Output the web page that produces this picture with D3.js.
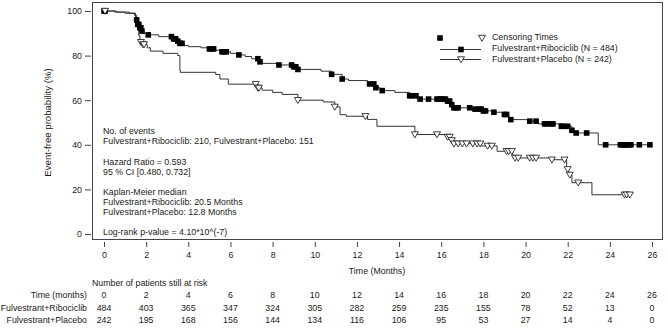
<!DOCTYPE html>
<html>
<head>
<style>
  body { margin: 0; background: #fff; }
  text { font-family: "Liberation Sans", Arial, sans-serif; fill: #1a1a1a; }
</style>
</head>
<body>
<script src="https://cdn.jsdelivr.net/npm/d3@7"></script>
<script>

const width = 668;
const height = 330;
const fontSize = 8.8;

// Kaplan-Meier steps: [month, event-free %]
const ribSteps = [
  [0, 100], [0.5, 99.5], [1.0, 99], [1.45, 98], [1.55, 96], [1.6, 94], [1.7, 92.5],
  [1.8, 91], [1.9, 90], [2.05, 89.3], [2.6, 88.5], [3.3, 87.5], [3.5, 86.5], [3.6, 85.5],
  [3.8, 84.5], [4.0, 84], [4.6, 83.5], [5.0, 83], [5.3, 82.4], [5.6, 81.7], [6.0, 81],
  [6.4, 80.3], [6.7, 79.6], [7.0, 78.6], [7.35, 77.2], [7.5, 76.5], [8.3, 75.8], [9.0, 75],
  [9.2, 73.8], [10.3, 73], [10.8, 71.6], [11.3, 69.5], [11.6, 68.8], [12.5, 67.3],
  [12.85, 65.6], [13.1, 64.3], [13.8, 63.5], [14.5, 62], [14.85, 60.5], [16.3, 59.6],
  [16.45, 58], [16.55, 56.6], [17.4, 56], [18.0, 55.2], [18.45, 54.6], [18.9, 53.6],
  [19.2, 52], [19.3, 51.3], [20.2, 50.6], [20.6, 49.4], [21.7, 48.3], [22.2, 46.5],
  [22.3, 45.3], [23.45, 40]
];
const ribEnd = 25.9;
const ribCensor = [
  0.0, 0.05, 1.55, 1.6, 1.65, 1.7, 1.75, 1.8, 2.1, 3.2, 3.3, 3.4, 3.5, 3.6, 3.7, 5.0, 5.1,
  5.2, 5.6, 5.7, 5.8, 6.4, 7.3, 7.4, 8.3, 8.9, 9.0, 9.1, 9.2, 10.8, 11.3, 12.6, 12.8, 12.9,
  13.2, 14.5, 14.6, 14.8, 15.0, 15.4, 15.8, 15.9, 16.0, 16.1, 16.2, 16.3, 16.4, 16.5, 16.6,
  16.7, 16.8, 17.35, 17.6, 17.8, 17.9, 18.0, 18.1, 18.5, 19.0, 19.1, 19.3, 20.2, 20.5, 20.9,
  21.0, 21.2, 21.3, 21.7, 21.8, 22.0, 22.2, 22.4, 22.9, 23.8, 24.5, 24.6, 24.7, 24.8, 24.9,
  25.0, 25.4, 25.9
];

const plaSteps = [
  [0, 100], [0.6, 99.5], [1.2, 99], [1.5, 97], [1.6, 93], [1.65, 89], [1.7, 86], [1.8, 85],
  [2.05, 83.5], [2.2, 82], [2.8, 81], [3.5, 80], [3.6, 73.5], [3.62, 72.5], [5.3, 71.5],
  [5.5, 69.5], [5.9, 67.2], [7.3, 65.5], [7.5, 64.5], [8.0, 63.5], [8.45, 62.6], [9.2, 60],
  [10.4, 59.2], [10.95, 57], [11.2, 53.5], [11.5, 52.8], [12.5, 51.4], [12.95, 48.3],
  [14.75, 44.6], [16.3, 43.5], [16.45, 42], [16.6, 40.5], [17.9, 39.5], [18.65, 37.1],
  [19.4, 34.1], [21.25, 33.3], [21.95, 29], [22.05, 26.5], [22.2, 23], [23.15, 17.6]
];
const plaEnd = 24.95;
const plaCensor = [
  0.05, 1.75, 1.85, 1.9, 7.2, 7.3, 7.35, 9.2, 10.95, 12.4, 14.75, 15.8, 16.3, 16.4, 16.5,
  16.6, 16.8, 17.0, 17.2, 17.5, 17.7, 17.85, 18.2, 18.4, 19.1, 19.2, 19.35, 19.5, 19.65,
  20.2, 20.35, 20.5, 21.25, 21.85, 22.0, 22.1, 22.5, 24.7, 24.8, 24.95
];

const xTicks = d3.range(0, 27, 2);
const yTicks = [0, 20, 40, 60, 80, 100];
const ribRisk = [484, 403, 365, 347, 324, 305, 282, 259, 235, 155, 78, 52, 13, 0];
const plaRisk = [242, 195, 168, 156, 144, 134, 116, 106, 95, 53, 27, 14, 4, 0];

const legendLabels = ['Censoring Times', 'Fulvestrant+Ribociclib (N = 484)', 'Fulvestrant+Placebo (N = 242)'];
const statsLines = [
  ['No. of events', 0],
  ['Fulvestrant+Ribociclib: 210, Fulvestrant+Placebo: 151', 1],
  ['Hazard Ratio = 0.593', 3],
  ['95 % CI [0.480, 0.732]', 4],
  ['Kaplan-Meier median', 6],
  ['Fulvestrant+Ribociclib: 20.5 Months', 7],
  ['Fulvestrant+Placebo: 12.8 Months', 8],
  ['Log-rank p-value = 4.10*10^(-7)', 10]
];

const box = {left: 92, right: 662, top: 2, bottom: 239};

const svg = d3.select('body')
  .append('svg')
  .attr('width', width)
  .attr('height', height)
  .attr('font-size', fontSize);

const x = d3.scaleLinear().domain([0, 26]).range([104, 652]);
const y = d3.scaleLinear().domain([0, 100]).range([234, 11]);

// frame
svg.append('rect')
  .attr('x', box.left + 0.5)
  .attr('y', box.top + 0.5)
  .attr('width', box.right - box.left)
  .attr('height', box.bottom - box.top)
  .attr('fill', 'none')
  .attr('stroke', '#444')
  .attr('stroke-width', 1);

// axes, R-style: outside the frame
const yAxis = svg.append('g')
  .attr('transform', `translate(${box.left - 1},0)`)
  .call(d3.axisLeft(y).tickValues(yTicks).tickSize(6).tickPadding(3));
yAxis.select('.domain').remove();

const xAxis = svg.append('g')
  .attr('transform', `translate(0,${box.bottom + 3})`)
  .call(d3.axisBottom(x).tickValues(xTicks).tickSize(5).tickPadding(5));
xAxis.select('.domain').remove();

svg.selectAll('.tick line').attr('stroke', '#444');
svg.selectAll('.tick text')
  .attr('font-size', fontSize)
  .attr('font-family', '"Liberation Sans", Arial, sans-serif')
  .attr('fill', '#1a1a1a');

svg.append('text')
  .attr('transform', `translate(48,${(y(0) + y(100)) / 2}) rotate(-90)`)
  .attr('text-anchor', 'middle')
  .attr('dominant-baseline', 'middle')
  .attr('font-size', 9.6)
  .text('Event-free probability (%)');

svg.append('text')
  .attr('x', (box.left + box.right) / 2)
  .attr('y', 272)
  .attr('text-anchor', 'middle')
  .attr('dominant-baseline', 'middle')
  .text('Time (Months)');

// curves
const survAt = (steps, t) => {
  let s = steps[0][1];
  for (const [tt, v] of steps) { if (tt <= t) s = v; }
  return s;
};

const line = d3.line()
  .x(d => x(d[0]))
  .y(d => y(d[1]))
  .curve(d3.curveStepAfter);

const curves = [
  {steps: ribSteps, end: ribEnd, censor: ribCensor, mark: 'square'},
  {steps: plaSteps, end: plaEnd, censor: plaCensor, mark: 'tri'}
];

const squarePath = 'M-2.8,-2.8H2.8V2.8H-2.8Z';
const triPath = 'M-3.5,-2.7H3.5L0,3.3Z';

const drawMark = (g, kind, cx, cy) => {
  if (kind === 'square') {
    g.append('path').attr('d', squarePath).attr('transform', `translate(${cx},${cy})`)
      .attr('fill', '#000');
  } else {
    g.append('path').attr('d', triPath).attr('transform', `translate(${cx},${cy})`)
      .attr('fill', '#fff').attr('stroke', '#111').attr('stroke-width', 0.8);
  }
};

curves.forEach(c => {
  const pts = c.steps.concat([[c.end, c.steps[c.steps.length - 1][1]]]);
  svg.append('path')
    .datum(pts)
    .attr('d', line)
    .attr('fill', 'none')
    .attr('stroke', '#333')
    .attr('stroke-width', 1);
});

curves.forEach(c => {
  const g = svg.append('g');
  c.censor.forEach(t => drawMark(g, c.mark, x(t), y(survAt(c.steps, t))));
});

// legend
const lg = svg.append('g');
drawMark(lg, 'square', 440, 38);
drawMark(lg, 'tri', 482, 38);
[49, 59].forEach((ly, i) => {
  lg.append('line')
    .attr('x1', 440).attr('x2', 481)
    .attr('y1', ly + 0.5).attr('y2', ly + 0.5)
    .attr('stroke', '#333');
  drawMark(lg, i === 0 ? 'square' : 'tri', 461, ly + 0.5);
});
legendLabels.forEach((t, i) => {
  lg.append('text')
    .attr('x', 492)
    .attr('y', 38 + i * 10.7)
    .attr('dominant-baseline', 'middle')
    .text(t);
});

// stats block
svg.append('g').selectAll('text')
  .data(statsLines)
  .enter()
  .append('text')
  .attr('x', 103)
  .attr('y', d => 132 + d[1] * 10.1)
  .attr('dominant-baseline', 'middle')
  .text(d => d[0]);

// risk table
svg.append('text')
  .attr('x', 92)
  .attr('y', 284)
  .attr('dominant-baseline', 'middle')
  .text('Number of patients still at risk');

const rows = [
  {label: 'Time (months)', values: xTicks, y: 296},
  {label: 'Fulvestrant+Ribociclib', values: ribRisk, y: 308.5},
  {label: 'Fulvestrant+Placebo', values: plaRisk, y: 321}
];

rows.forEach(r => {
  svg.append('text')
    .attr('x', 87)
    .attr('y', r.y)
    .attr('text-anchor', 'end')
    .attr('dominant-baseline', 'middle')
    .text(r.label);
  svg.append('g').selectAll('text')
    .data(r.values)
    .enter()
    .append('text')
    .attr('x', (d, i) => x(xTicks[i]))
    .attr('y', r.y)
    .attr('text-anchor', 'middle')
    .attr('dominant-baseline', 'middle')
    .text(d => d);
});

</script>
</body>
</html>
